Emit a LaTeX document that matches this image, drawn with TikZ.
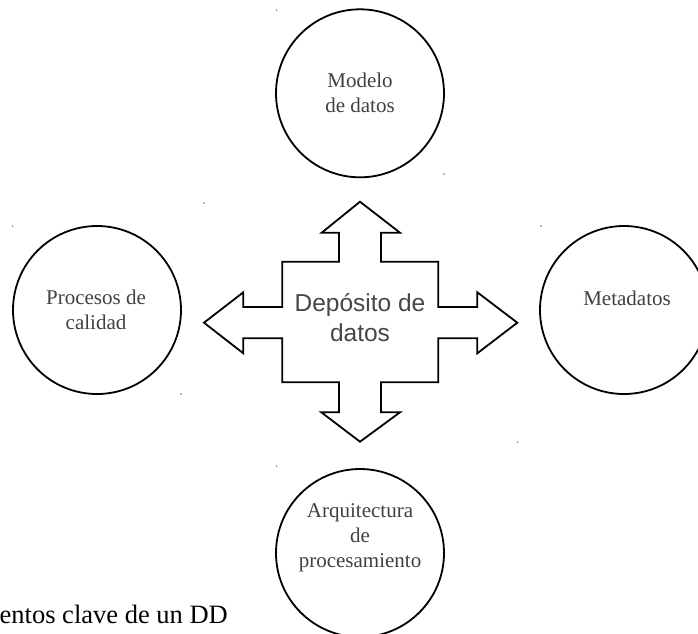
\documentclass[tikz,border=0pt]{standalone}
\usepackage{fontspec}
\setmainfont{Liberation Serif}
\newfontfamily\depfont{Liberation Sans}
\begin{document}
\begin{tikzpicture}[x=1pt,y=-1pt,
  topic/.style={circle,draw=black,line width=1.8pt,minimum size=168pt,inner sep=0pt},
  topictext/.style={align=center,text=black!75,font=\fontsize{21}{25}\selectfont},
  hubtext/.style={align=center,text=black!72,font=\depfont\fontsize{24.5}{30}\selectfont},
  cross/.style={draw=black,line width=1.8pt,line join=miter,fill=white},
  marker/.style={fill=black!55}]
\useasboundingbox (0,0) rectangle (698,633);
\clip (0,0) rectangle (698,633);

% four-way arrow in the middle
\draw[cross] (360,201.7) -- (400,232.7) -- (381,232.7) -- (381,261.7) -- (438.3,261.7)
  -- (438.3,307) -- (477.3,307) -- (477.3,292.3) -- (517.3,322.7) -- (477.3,353.3)
  -- (477.3,338.3) -- (438.3,338.3) -- (438.3,382.3) -- (381,382.3) -- (381,412.3)
  -- (400,412.3) -- (360,441.7) -- (321.3,412.3) -- (339,412.3) -- (339,382.3)
  -- (282.3,382.3) -- (282.3,338.3) -- (243.3,338.3) -- (243.3,353.3) -- (204,322.7)
  -- (243.3,292.3) -- (243.3,307) -- (282.3,307) -- (282.3,261.7) -- (339,261.7)
  -- (339,232.7) -- (321.7,232.7) -- cycle;
\node[hubtext] (hub) at (360,318) {Depósito de\\datos};

% surrounding topics
\node[topic] (model) at (360,93.3) {};
\node[topictext] (modeltxt) at (360,92.5) {Modelo\\de datos};

\node[topic] (quality) at (97,310) {};
\node[topictext] (qualitytxt) at (96,310) {Procesos de\\calidad};

\node[topic] (meta) at (624,310) {};
\node[topictext] (metatxt) at (627,298) {Metadatos};

\node[topic] (arch) at (360,553) {};
\node[topictext] (archtxt) at (360,538) {Arquitectura\\de\\procesamiento};

% caption
\node[anchor=base east,inner sep=0pt,font=\fontsize{26.5}{30}\selectfont] (caption)
  at (228,623) {entos clave de un DD};

% small corner markers
\foreach \p in {(276.7,10),(444,174),(204,203),(517.7,442),(12.7,226),(181,394),(541,226),(276.7,466)}
  \fill[marker] \p circle (0.8);
\end{tikzpicture}
\end{document}
